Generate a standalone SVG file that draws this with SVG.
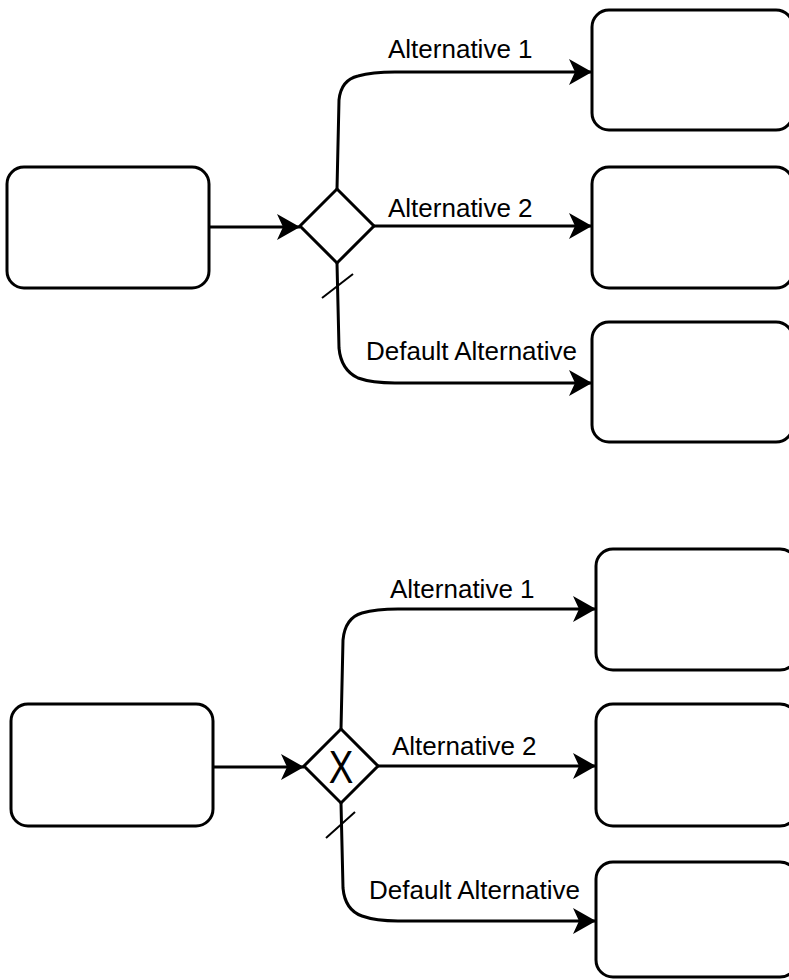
<svg xmlns="http://www.w3.org/2000/svg" width="789" height="980" viewBox="0 0 789 980">
  <defs>
    <style>
      .task { fill: #ffffff; stroke: #000000; stroke-width: 3; }
      .gateway { fill: #ffffff; stroke: #000000; stroke-width: 3; stroke-linejoin: miter; }
      .flow { fill: none; stroke: #000000; stroke-width: 3; marker-end: url(#arrow); }
      .tick { fill: none; stroke: #000000; stroke-width: 2; }
      .label { font-family: "Liberation Sans", Arial, sans-serif; font-size: 26px; fill: #000000; }
      .mark { font-family: "Liberation Sans", Arial, sans-serif; font-size: 46px; fill: #000000; text-anchor: middle; }
    </style>
    <marker id="arrow" markerUnits="userSpaceOnUse" viewBox="-24 -14 25 28" markerWidth="25" markerHeight="28" refX="0" refY="0" orient="auto">
      <path d="M0,0 L-23,-13 L-17,0 L-23,13 Z" fill="#000000"/>
    </marker>
  </defs>
  <rect width="789" height="980" fill="#ffffff"/>

  <!-- upper process: data-based gateway -->
  <g id="task-a-start"><rect class="task" x="7" y="167" width="202" height="121" rx="17"/></g>
  <g id="gateway-a"><polygon class="gateway" points="337,189 374,226 337,263 300,226"/></g>
  <g id="task-a-1"><rect class="task" x="592" y="10" width="201" height="120" rx="17"/></g>
  <g id="task-a-2"><rect class="task" x="592" y="167" width="201" height="121" rx="17"/></g>
  <g id="task-a-3"><rect class="task" x="592" y="322" width="201" height="120" rx="17"/></g>

  <!-- lower process: exclusive gateway with X marker -->
  <g id="task-b-start"><rect class="task" x="11" y="704" width="202" height="122" rx="17"/></g>
  <g id="gateway-b">
    <polygon class="gateway" points="341,729 378,766 341,803 304,766"/>
    <text class="mark" transform="translate(341,783) scale(0.8,1)" x="0" y="0">X</text>
  </g>
  <g id="task-b-1"><rect class="task" x="596" y="549" width="201" height="121" rx="17"/></g>
  <g id="task-b-2"><rect class="task" x="596" y="704" width="201" height="122" rx="17"/></g>
  <g id="task-b-3"><rect class="task" x="596" y="862" width="201" height="115" rx="17"/></g>

  <g id="connectors">
    <!-- upper -->
    <path class="flow" d="M209,227 L300,227"/>
    <path class="flow" d="M337,189 L339,100 Q341,80 358,76 Q372,72 395,72 L592,72"/>
    <path class="flow" d="M374,226 L592,226"/>
    <path class="flow" d="M337,263 L339,348 Q341,370 358,378 Q372,383 395,383 L592,383"/>
    <line class="tick" x1="322" y1="298" x2="353" y2="274"/>
    <!-- lower -->
    <path class="flow" d="M213,767 L304,767"/>
    <path class="flow" d="M341,729 L343,640 Q345,618 362,613 Q376,609 398,609 L596,609"/>
    <path class="flow" d="M378,766 L596,766"/>
    <path class="flow" d="M341,803 L343,888 Q345,910 362,916 Q376,921 398,921 L596,921"/>
    <line class="tick" x1="326" y1="838" x2="355" y2="812"/>
  </g>

  <g id="labels">
    <text class="label" x="388" y="58">Alternative 1</text>
    <text class="label" x="388" y="217">Alternative 2</text>
    <text class="label" x="366" y="360">Default Alternative</text>
    <text class="label" x="390" y="598">Alternative 1</text>
    <text class="label" x="392" y="755">Alternative 2</text>
    <text class="label" x="369" y="899">Default Alternative</text>
  </g>
</svg>
